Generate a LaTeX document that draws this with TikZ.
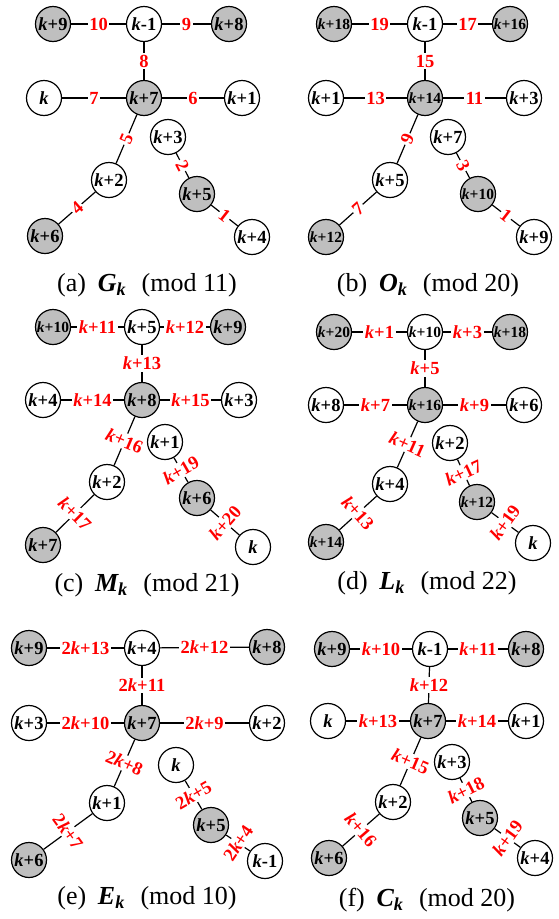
\documentclass[tikz,border=0pt]{standalone}
\usepackage{fontspec}
\setmainfont{Liberation Serif}
\definecolor{vgray}{RGB}{191,191,191}
\newcommand{\kv}{\textit{k}}
\newcommand{\panelcap}[3]{(#1)\hspace{0.45em}{\bfseries\itshape #2\textsubscript{k}}\hspace{0.6em}(mod #3)}

\begin{document}
\begin{tikzpicture}[
    x=1pt, y=-1pt,
    vtx/.style={circle, draw=black, line width=1.2pt, fill=white,
                minimum size=35pt, inner sep=0pt,
                font=\fontsize{18.5}{18.5}\selectfont\bfseries},
    vtxg/.style={vtx, fill=vgray},
    smalltxt/.style={font=\fontsize{15.5}{15.5}\selectfont\bfseries},
    link/.style={line width=1.2pt, black},
    lab/.style={fill=white, text=red, inner sep=1.5pt,
                font=\fontsize{18.5}{18.5}\selectfont\bfseries},
    captext/.style={font=\fontsize{26}{26}\selectfont}
]
\useasboundingbox (0,0) rectangle (559,919);

% (a) G_k
\begin{scope}[shift={(0,0)}, name prefix=a-]
\node[vtxg] (t1) at (53,24) {\kv+9};
\node[vtx]  (t2) at (144,24) {\kv-1};
\node[vtxg] (t3) at (229,24) {\kv+8};
\node[vtx]  (m1) at (44,98) {\kv};
\node[vtxg] (m2) at (144,98) {\kv+7};
\node[vtx]  (m3) at (242,98) {\kv+1};
\node[vtx]  (r1) at (168,137) {\kv+3};
\node[vtx]  (l1) at (109,180) {\kv+2};
\node[vtxg] (r2) at (197,194) {\kv+5};
\node[vtxg] (l2) at (45,236) {\kv+6};
\node[vtx]  (r3) at (252,237) {\kv+4};
\draw[link] (t1) -- node[lab] {10} (t2);
\draw[link] (t2) -- node[lab] {9} (t3);
\draw[link] (t2) -- node[lab] {8} (m2);
\draw[link] (m1) -- node[lab] {7} (m2);
\draw[link] (m2) -- node[lab] {6} (m3);
\draw[link] (m2) -- node[lab, sloped] {5} (l1);
\draw[link] (l1) -- node[lab, sloped] {4} (l2);
\draw[link] (r1) -- node[lab, sloped] {2} (r2);
\draw[link] (r2) -- node[lab, sloped] {1} (r3);
\node[captext] (title) at (147,285) {\panelcap{a}{G}{11}};
\end{scope}

% (b) O_k
\begin{scope}[shift={(281,0)}, name prefix=b-]
\node[vtxg, smalltxt] (t1) at (53,24) {\kv+18};
\node[vtx]  (t2) at (144,24) {\kv-1};
\node[vtxg, smalltxt] (t3) at (229,24) {\kv+16};
\node[vtx]  (m1) at (45,98) {\kv+1};
\node[vtxg, smalltxt] (m2) at (144,98) {\kv+14};
\node[vtx]  (m3) at (243,98) {\kv+3};
\node[vtx]  (r1) at (167,137) {\kv+7};
\node[vtx]  (l1) at (109,180) {\kv+5};
\node[vtxg, smalltxt] (r2) at (197,194) {\kv+10};
\node[vtxg, smalltxt] (l2) at (45,237) {\kv+12};
\node[vtx]  (r3) at (253,237) {\kv+9};
\draw[link] (t1) -- node[lab] {19} (t2);
\draw[link] (t2) -- node[lab] {17} (t3);
\draw[link] (t2) -- node[lab] {15} (m2);
\draw[link] (m1) -- node[lab] {13} (m2);
\draw[link] (m2) -- node[lab] {11} (m3);
\draw[link] (m2) -- node[lab, sloped] {9} (l1);
\draw[link] (l1) -- node[lab, sloped] {7} (l2);
\draw[link] (r1) -- node[lab, sloped] {3} (r2);
\draw[link] (r2) -- node[lab, sloped] {1} (r3);
\node[captext] (title) at (147,285) {\panelcap{b}{O}{20}};
\end{scope}

% (c) M_k
\begin{scope}[shift={(0,300)}, name prefix=c-]
\node[vtxg, smalltxt] (t1) at (53,27) {\kv+10};
\node[vtx]  (t2) at (142,27) {\kv+5};
\node[vtxg] (t3) at (228,27) {\kv+9};
\node[vtx]  (m1) at (43,100) {\kv+4};
\node[vtxg] (m2) at (142,100) {\kv+8};
\node[vtx]  (m3) at (239,100) {\kv+3};
\node[vtx]  (r1) at (165,142) {\kv+1};
\node[vtx]  (l1) at (107,182) {\kv+2};
\node[vtxg] (r2) at (197,198) {\kv+6};
\node[vtxg] (l2) at (43,245) {\kv+7};
\node[vtx]  (r3) at (253,247) {\kv};
\draw[link] (t1) -- node[lab] {\kv+11} (t2);
\draw[link] (t2) -- node[lab] {\kv+12} (t3);
\draw[link] (t2) -- node[lab] {\kv+13} (m2);
\draw[link] (m1) -- node[lab] {\kv+14} (m2);
\draw[link] (m2) -- node[lab] {\kv+15} (m3);
\draw[link] (m2) -- node[lab, rotate=-23] {\kv+16} (l1);
\draw[link] (l1) -- node[lab, rotate=-45] {\kv+17} (l2);
\draw[link] (r1) -- node[lab, rotate=30] {\kv+19} (r2);
\draw[link] (r2) -- node[lab, rotate=49] {\kv+20} (r3);
\node[captext] (title) at (147,285) {\panelcap{c}{M}{21}};
\end{scope}

% (d) L_k
\begin{scope}[shift={(280,300)}, name prefix=d-]
\node[vtxg, smalltxt] (t1) at (54,32) {\kv+20};
\node[vtx, smalltxt]  (t2) at (145,32) {\kv+10};
\node[vtxg, smalltxt] (t3) at (230,32) {\kv+18};
\node[vtx]  (m1) at (46,105) {\kv+8};
\node[vtxg, smalltxt] (m2) at (145,105) {\kv+16};
\node[vtx]  (m3) at (244,105) {\kv+6};
\node[vtx]  (r1) at (170,143) {\kv+2};
\node[vtx]  (l1) at (110,184) {\kv+4};
\node[vtxg, smalltxt] (r2) at (197,202) {\kv+12};
\node[vtxg, smalltxt] (l2) at (46,242) {\kv+14};
\node[vtx]  (r3) at (253,243) {\kv};
\draw[link] (t1) -- node[lab] {\kv+1} (t2);
\draw[link] (t2) -- node[lab] {\kv+3} (t3);
\draw[link] (t2) -- node[lab] {\kv+5} (m2);
\draw[link] (m1) -- node[lab] {\kv+7} (m2);
\draw[link] (m2) -- node[lab] {\kv+9} (m3);
\draw[link] (m2) -- node[lab, rotate=-24] {\kv+11} (l1);
\draw[link] (l1) -- node[lab, rotate=-48] {\kv+13} (l2);
\draw[link] (r1) -- node[lab, rotate=25] {\kv+17} (r2);
\draw[link] (r2) -- node[lab, rotate=54] {\kv+19} (r3);
\node[captext] (title) at (147,283) {\panelcap{d}{L}{22}};
\end{scope}

% (e) E_k
\begin{scope}[shift={(0,610)}, name prefix=e-]
\node[vtxg] (t1) at (29,38) {\kv+9};
\node[vtx]  (t2) at (142,38) {\kv+4};
\node[vtxg] (t3) at (267,37) {\kv+8};
\node[vtx]  (m1) at (29,113) {\kv+3};
\node[vtxg] (m2) at (142,113) {\kv+7};
\node[vtx]  (m3) at (267,113) {\kv+2};
\node[vtx]  (r1) at (176,155) {\kv};
\node[vtx]  (l1) at (107,193) {\kv+1};
\node[vtxg] (r2) at (211,215) {\kv+5};
\node[vtxg] (l2) at (29,250) {\kv+6};
\node[vtx]  (r3) at (265,251) {\kv-1};
\draw[link] (t1) -- node[lab] {2\kv+13} (t2);
\draw[link] (t2) -- node[lab] {2\kv+12} (t3);
\draw[link] (t2) -- node[lab] {2\kv+11} (m2);
\draw[link] (m1) -- node[lab] {2\kv+10} (m2);
\draw[link] (m2) -- node[lab] {2\kv+9} (m3);
\draw[link] (m2) -- node[lab, rotate=-24] {2\kv+8} (l1);
\draw[link] (l1) -- node[lab, rotate=-54] {2\kv+7} (l2);
\draw[link] (r1) -- node[lab, rotate=30] {2\kv+5} (r2);
\draw[link] (r2) -- node[lab, rotate=56] {2\kv+4} (r3);
\node[captext] (title) at (147,288) {\panelcap{e}{E}{10}};
\end{scope}

% (f) C_k
\begin{scope}[shift={(280,610)}, name prefix=f-]
\node[vtxg] (t1) at (52,39) {\kv+9};
\node[vtx]  (t2) at (150,39) {\kv-1};
\node[vtxg] (t3) at (246,39) {\kv+8};
\node[vtx]  (m1) at (48,111) {\kv};
\node[vtxg] (m2) at (148,111) {\kv+7};
\node[vtx]  (m3) at (246,111) {\kv+1};
\node[vtx]  (r1) at (172,152) {\kv+3};
\node[vtx]  (l1) at (113,192) {\kv+2};
\node[vtxg] (r2) at (200,208) {\kv+5};
\node[vtxg] (l2) at (49,248) {\kv+6};
\node[vtx]  (r3) at (255,248) {\kv+4};
\draw[link] (t1) -- node[lab] {\kv+10} (t2);
\draw[link] (t2) -- node[lab] {\kv+11} (t3);
\draw[link] (t2) -- node[lab] {\kv+12} (m2);
\draw[link] (m1) -- node[lab] {\kv+13} (m2);
\draw[link] (m2) -- node[lab] {\kv+14} (m3);
\draw[link] (m2) -- node[lab, rotate=-23] {\kv+15} (l1);
\draw[link] (l1) -- node[lab, rotate=-49] {\kv+16} (l2);
\draw[link] (r1) -- node[lab, rotate=27] {\kv+18} (r2);
\draw[link] (r2) -- node[lab, rotate=54] {\kv+19} (r3);
\node[captext] (title) at (147,290) {\panelcap{f}{C}{20}};
\end{scope}

\end{tikzpicture}
\end{document}
